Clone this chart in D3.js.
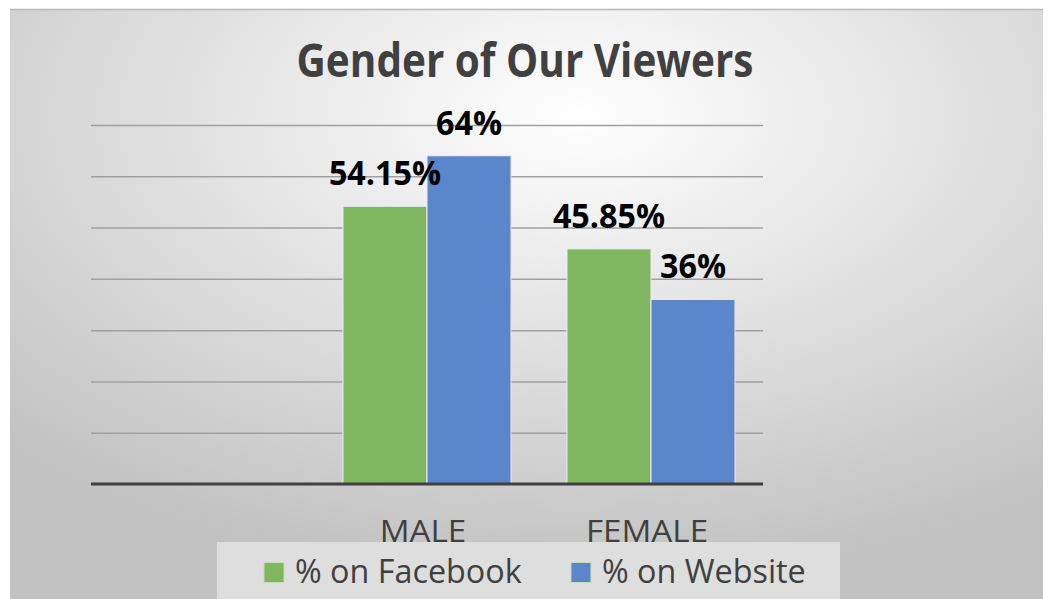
<!DOCTYPE html>
<html>
<head>
<meta charset="utf-8">
<script src="https://cdn.jsdelivr.net/npm/d3@7/dist/d3.min.js"></script>
<style>
  html, body { margin: 0; padding: 0; background: #fff; }
  svg { display: block; font-family: "Open Sans", sans-serif; }
</style>
</head>
<body>
<div id="chart"></div>
<script>
// data
var categories = ["", "MALE", "FEMALE"];
var seriesNames = ["% on Facebook", "% on Website"];
var facebookValues = [null, 54.15, 45.85];
var websiteValues = [null, 64, 36];
var valueLabels = [[null, "54.15%", "45.85%"], [null, "64%", "36%"]];
var gridTicks = [10, 20, 30, 40, 50, 60, 70];
var title = "Gender of Our Viewers";

var colors = ["#80b660", "#5b86cb"];

var W = 1048, H = 599;
var svg = d3.select("#chart").append("svg")
    .attr("width", W)
    .attr("height", H);

// background panel with radial fill
var defs = svg.append("defs");
var grad = defs.append("radialGradient")
    .attr("id", "bg")
    .attr("cx", "55%").attr("cy", "18%").attr("r", "78%");
grad.append("stop").attr("offset", "0%").attr("stop-color", "#ffffff");
grad.append("stop").attr("offset", "100%").attr("stop-color", "#c2c2c2");

svg.append("rect")
    .attr("x", 10).attr("y", 9)
    .attr("width", 1033).attr("height", H - 9)
    .attr("fill", "url(#bg)");
svg.append("line")
    .attr("x1", 10).attr("x2", 1043)
    .attr("y1", 9.5).attr("y2", 9.5)
    .attr("stroke", "#b8b8b8").attr("stroke-width", 1.5);

var margin = {left: 91, right: 1048 - 763, top: 125, bottom: 599 - 484};

var x0 = d3.scaleBand()
    .domain(categories)
    .range([margin.left, W - margin.right])
    .padding(0);

var x1 = d3.scaleBand()
    .domain(seriesNames)
    .range([0, x0.bandwidth()])
    .paddingInner(0)
    .paddingOuter(0.333);

var y = d3.scaleLinear()
    .domain([0, 70])
    .range([H - margin.bottom, margin.top]);

// fit text to a width factor (Calibri proportions differ from the fonts we have)
function squeeze(sel, k) {
    sel.each(function() {
        var len = this.getComputedTextLength();
        d3.select(this).attr("textLength", len * k).attr("lengthAdjust", "spacingAndGlyphs");
    });
}

// gridlines
var yGrid = d3.axisLeft(y)
    .tickValues(gridTicks)
    .tickSize(-(x0.range()[1] - x0.range()[0]))
    .tickFormat("");
var gGrid = svg.append("g")
    .attr("transform", "translate(" + margin.left + ",0)")
    .call(yGrid);
gGrid.select(".domain").remove();
gGrid.selectAll(".tick line")
    .attr("stroke", "#a0a0a0")
    .attr("stroke-width", 1.5);

// bars
var rows = categories.map(function(c, i) {
    return {cat: c, vals: [facebookValues[i], websiteValues[i]], labels: [valueLabels[0][i], valueLabels[1][i]]};
}).filter(function(d) { return d.vals[0] != null; });

var groups = svg.selectAll(".grp")
    .data(rows)
    .enter().append("g")
    .attr("class", "grp")
    .attr("transform", function(d) { return "translate(" + x0(d.cat) + ",0)"; });

groups.selectAll("rect")
    .data(function(d) { return d.vals.map(function(v, j) { return {s: seriesNames[j], v: v, j: j}; }); })
    .enter().append("rect")
    .attr("x", function(d) { return x1(d.s); })
    .attr("y", function(d) { return y(d.v); })
    .attr("width", x1.bandwidth())
    .attr("height", function(d) { return y(0) - y(d.v); })
    .attr("fill", function(d) { return colors[d.j]; })
    .attr("stroke", "#e8eef6")
    .attr("stroke-width", 1);

groups.selectAll(".vlab")
    .data(function(d) { return d.vals.map(function(v, j) { return {s: seriesNames[j], v: v, t: d.labels[j]}; }); })
    .enter().append("text")
    .attr("class", "vlab")
    .attr("x", function(d) { return x1(d.s) + x1.bandwidth() / 2; })
    .attr("y", function(d) { return y(d.v) - 21; })
    .attr("text-anchor", "middle")
    .attr("font-size", 34)
    .attr("font-weight", 700)
    .attr("fill", "#000")
    .text(function(d) { return d.t; })
    .call(squeeze, 0.95);

// baseline
svg.append("line")
    .attr("x1", margin.left).attr("x2", W - margin.right)
    .attr("y1", y(0)).attr("y2", y(0))
    .attr("stroke", "#404040").attr("stroke-width", 3);

// category labels
var xAxis = d3.axisBottom(x0).tickSize(0).tickPadding(0);
var gx = svg.append("g")
    .attr("transform", "translate(0," + y(0) + ")")
    .call(xAxis);
gx.select(".domain").remove();
gx.selectAll("text")
    .attr("dy", 0)
    .attr("y", 58)
    .attr("x", -4)
    .attr("font-size", 31)
    .attr("font-family", "\"Open Sans\", sans-serif")
    .attr("fill", "#404040")
    .call(squeeze, 1.07);

// title
svg.append("text")
    .attr("x", 525)
    .attr("y", 77)
    .attr("text-anchor", "middle")
    .attr("font-size", 46)
    .attr("font-weight", 700)
    .attr("fill", "#404040")
    .text(title)
    .call(squeeze, 0.88);

// legend
svg.append("rect")
    .attr("x", 217).attr("y", 542)
    .attr("width", 623).attr("height", 70)
    .attr("fill", "#dedede");

var leg = svg.append("g");
var cursor = 264;
seriesNames.forEach(function(name, i) {
    leg.append("rect")
        .attr("x", cursor).attr("y", 562.5)
        .attr("width", 20).attr("height", 20)
        .attr("fill", colors[i])
        .attr("stroke", "#c8dcbc")
        .attr("stroke-width", 1);
    var t = leg.append("text")
        .attr("x", cursor + 31)
        .attr("y", 583)
        .attr("font-size", 32)
        .attr("fill", "#404040")
        .text(name)
        .call(squeeze, 1.01);
    cursor += 31 + t.node().getComputedTextLength() * 1.01 + 47;
});
</script>
</body>
</html>
